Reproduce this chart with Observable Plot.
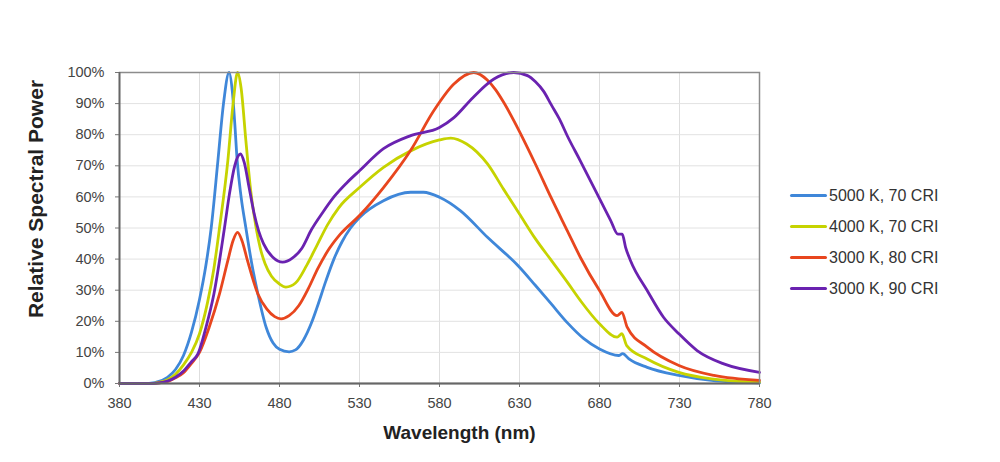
<!DOCTYPE html>
<html>
<head>
<meta charset="utf-8">
<script src="https://cdn.jsdelivr.net/npm/d3@7"></script>
<script src="https://cdn.jsdelivr.net/npm/@observablehq/plot@0.6"></script>
<style>
  html, body { margin: 0; padding: 0; background: #fff; }
  #chart { position: relative; width: 1000px; height: 462px; font-family: "Liberation Sans", Arial, sans-serif; }
  #legend { position: absolute; left: 790px; top: 180px; }
  .item { display: flex; align-items: center; height: 31px; font-size: 16px; color: #333; white-space: nowrap; }
  .swatch { width: 37px; height: 3px; border-radius: 2px; margin-right: 2px; }
</style>
</head>
<body>
<div id="chart"></div>
<script>
// Series names and line colours
const seriesNames = ["5000 K, 70 CRI", "4000 K, 70 CRI", "3000 K, 80 CRI", "3000 K, 90 CRI"];
const seriesColors = ["#3f87d9", "#c6d300", "#e8461e", "#6a22b0"];

// Axis ticks
const xTicks = [380, 430, 480, 530, 580, 630, 680, 730, 780];
const yTicks = [0, 10, 20, 30, 40, 50, 60, 70, 80, 90, 100];

// Relative spectral power (%) by wavelength (nm)
const spd5000K70 = [
  [380, 0], [395, 0], [402, 0.3], [410, 2], [415, 4.5], [420, 9], [425, 16.5], [430, 27],
  [434, 38], [437.3, 50], [441.5, 71.6], [445, 90], [448.5, 100], [450.5, 94], [452, 84],
  [453.5, 72], [456, 60], [459, 50], [462.5, 39], [466.5, 28.8], [471.7, 18], [476, 13],
  [480, 11], [486, 10.2], [490, 10.8], [495, 14], [500, 19.5], [503.5, 24.5], [509, 33],
  [514, 40], [519, 45.5], [524.4, 50], [530, 53.4], [545, 58.8], [562, 61.5], [570, 61.5],
  [580, 59.9], [593, 55.6], [610, 47], [630, 37.4], [640, 31.5], [650, 25.5], [660, 19.5],
  [670, 14.5], [680, 11.1], [692, 9], [694.5, 9.6], [698.4, 7.9], [709.8, 5.2], [729.6, 2.6],
  [750, 1], [780, 0.2]
];
const spd4000K70 = [
  [380, 0], [398, 0], [405, 0.4], [410, 1.2], [415, 3], [420, 6], [425, 10], [430, 16],
  [435, 26], [439, 37], [442.5, 50], [447.7, 71.6], [451, 90], [453.8, 100], [456, 95],
  [459, 78], [462, 62], [465.4, 50], [468, 43.5], [471, 38.5], [475, 34.5], [480, 32],
  [484, 31], [490, 32.3], [497, 38], [503.5, 44.5], [510, 51], [517, 56.5], [530, 63],
  [545, 69.5], [562, 74.8], [580, 78.3], [587, 78.9], [597, 77], [610, 70.6], [620, 62.5],
  [630, 54.5], [640, 46.5], [650, 39.5], [660, 32.5], [668, 26.7], [680, 19.2], [691, 14.9],
  [694, 16], [697, 12.2], [709.8, 7.9], [729.6, 3.6], [750, 1.5], [780, 0.4]
];
const spd3000K80 = [
  [380, 0], [400, 0], [405, 0.2], [410, 0.6], [415, 1.8], [420, 3.5], [425, 6.5], [430, 10],
  [436, 18], [442.5, 28.8], [447.7, 39.5], [451, 46], [453.8, 48.6], [456.5, 46], [460, 39.5],
  [466.5, 28.8], [472, 24], [477, 21.5], [481, 20.8], [486, 21.8], [492, 25], [498, 30.5],
  [504, 37], [510, 42.5], [518, 48], [530, 54], [545, 63], [562, 75], [576.4, 87.7],
  [589, 96.3], [601.4, 100], [610, 97.5], [615, 94.5], [620, 90.5], [630, 81], [640, 70.5],
  [650, 59.5], [660, 49], [668, 40.6], [680, 29.9], [691, 21.8], [694, 22.9], [697.3, 18.1],
  [709.8, 11.7], [729.6, 5.8], [751.5, 2.6], [780, 1]
];
const spd3000K90 = [
  [380, 0], [400, 0], [405, 0.2], [410, 0.8], [415, 2], [420, 4], [425, 7], [429, 9.5],
  [434, 18], [439, 28.8], [445.6, 50], [448.7, 60.9], [452, 70], [455.6, 73.8], [458, 71],
  [461, 63], [464, 55], [467, 49], [470, 45], [476, 40.5], [482, 39], [488, 40.3], [494, 43.5],
  [500, 49.5], [507, 55], [514, 60], [522, 64.5], [530, 68.4], [545, 75.5], [562, 79.7],
  [580, 82.3], [589, 85.5], [601, 92], [614, 97.9], [626.4, 100], [635, 99], [640, 97],
  [645, 94], [650, 89.5], [655, 85], [660, 79.5], [668, 71.6], [678.6, 60.9], [687, 52.4],
  [691.5, 48], [694.2, 48], [696.3, 43.8], [699.4, 39.5], [709.8, 29.9], [720, 21.3],
  [729.6, 16], [741, 10.6], [757.7, 6.3], [780, 3.6]
];

const spectra = [spd5000K70, spd4000K70, spd3000K80, spd3000K90];
const rows = spectra.flatMap((s, i) => s.map(([nm, pct]) => ({series: seriesNames[i], nm, pct})));

const plot = Plot.plot({
  width: 1000,
  height: 462,
  marginTop: 72,
  marginBottom: 79,
  marginLeft: 119,
  marginRight: 241,
  style: {fontFamily: "'Liberation Sans', Arial, sans-serif", fontSize: "14.5px", color: "#444", background: "#fff"},
  x: {domain: [380, 780], ticks: xTicks, tickSize: 4, tickPadding: 10, label: null},
  y: {domain: [0, 100], ticks: yTicks, tickSize: 4, tickPadding: 11, tickFormat: d => d + "%", label: null},
  color: {domain: seriesNames, range: seriesColors},
  marks: [
    Plot.gridX(xTicks, {stroke: "#dedede", strokeOpacity: 1}),
    Plot.gridY(yTicks, {stroke: "#e2e2e2", strokeOpacity: 1}),
    Plot.line(rows, {x: "nm", y: "pct", z: "series", stroke: "series", strokeWidth: 2.8, curve: "monotone-x"}),
    Plot.frame({stroke: "#8c8c8c", strokeWidth: 1.5}),
    Plot.axisX({ticks: xTicks, tickSize: 4, tickPadding: 10, stroke: "#777"}),
    Plot.axisY({ticks: yTicks, tickSize: 4, tickPadding: 11, tickFormat: d => d + "%", stroke: "#777"}),
    Plot.ruleX([380], {stroke: "#666", strokeWidth: 1.8}),
    Plot.ruleY([0], {stroke: "#666", strokeWidth: 1.8}),
    Plot.text(["Wavelength (nm)"], {frameAnchor: "bottom", dx: 20, dy: 55, fontSize: 19, fontWeight: "bold", fill: "#222"}),
    Plot.text(["Relative Spectral Power"], {frameAnchor: "left", textAnchor: "middle", rotate: -90, dx: -83, dy: -29, fontSize: 21, fontWeight: "bold", fill: "#222"})
  ]
});

const chart = document.getElementById("chart");
chart.appendChild(plot);

// Legend on the right
const legend = document.createElement("div");
legend.id = "legend";
seriesNames.forEach((name, i) => {
  const item = document.createElement("div");
  item.className = "item";
  const sw = document.createElement("span");
  sw.className = "swatch";
  sw.style.background = seriesColors[i];
  const label = document.createElement("span");
  label.textContent = name;
  item.appendChild(sw);
  item.appendChild(label);
  legend.appendChild(item);
});
chart.appendChild(legend);
</script>
</body>
</html>
